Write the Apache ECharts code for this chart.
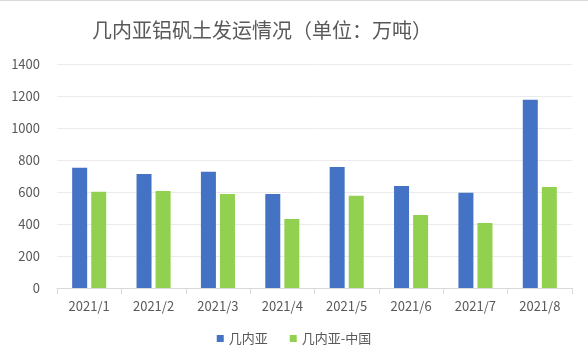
<!DOCTYPE html>
<html><head><meta charset="utf-8">
<script src="https://cdn.jsdelivr.net/npm/echarts@6/dist/echarts.min.js"></script>
<style>html,body{margin:0;padding:0;background:#fff;}#c{width:588px;height:363px;border-top:1px solid #d9d9d9;}</style>
</head><body><div id="c"></div>
<script>
const categories = ['2021/1','2021/2','2021/3','2021/4','2021/5','2021/6','2021/7','2021/8'];
const guinea = [751, 713, 726, 588, 757, 638, 595, 1177];
const guineaChina = [601, 607, 588, 432, 576, 457, 407, 632];
const seriesNames = ['几内亚', '几内亚-中国'];
const titleText = '几内亚铝矾土发运情况（单位：万吨）';

const chart = echarts.init(document.getElementById('c'));
const font = '"Noto Sans CJK SC", "Noto Sans", sans-serif';
chart.setOption({
  animation: false,
  textStyle: {fontFamily: font},
  title: {text: titleText, left: 87, top: 14,
    textStyle: {fontSize: 20, fontWeight: 'normal', color: '#595959', fontFamily: font}},
  legend: {bottom: 14, left: 'center', itemWidth: 7, itemHeight: 7, itemGap: 22,
    icon: 'rect', textStyle: {fontSize: 13, color: '#595959', fontFamily: font},
    data: seriesNames},
  grid: {left: 57, right: 16, top: 63, bottom: 76, containLabel: false},
  xAxis: {type: 'category', data: categories,
    axisLine: {lineStyle: {color: '#d9d9d9'}},
    axisTick: {show: true, length: 6, lineStyle: {color: '#d9d9d9'}},
    axisLabel: {fontSize: 13, color: '#595959', margin: 12, fontFamily: font}},
  yAxis: {type: 'value', min: 0, max: 1400, interval: 200,
    axisLine: {show: false}, axisTick: {show: false},
    splitLine: {lineStyle: {color: '#ebebeb'}},
    axisLabel: {fontSize: 13, color: '#595959', margin: 17, fontFamily: font,
      formatter: v => String(v)}},
  series: [
    {name: seriesNames[0], type: 'bar', data: guinea, barWidth: 15, barGap: '27%',
     itemStyle: {color: '#4472C4'}},
    {name: seriesNames[1], type: 'bar', data: guineaChina, barWidth: 15,
     itemStyle: {color: '#92D050'}}
  ]
});
</script></body></html>
